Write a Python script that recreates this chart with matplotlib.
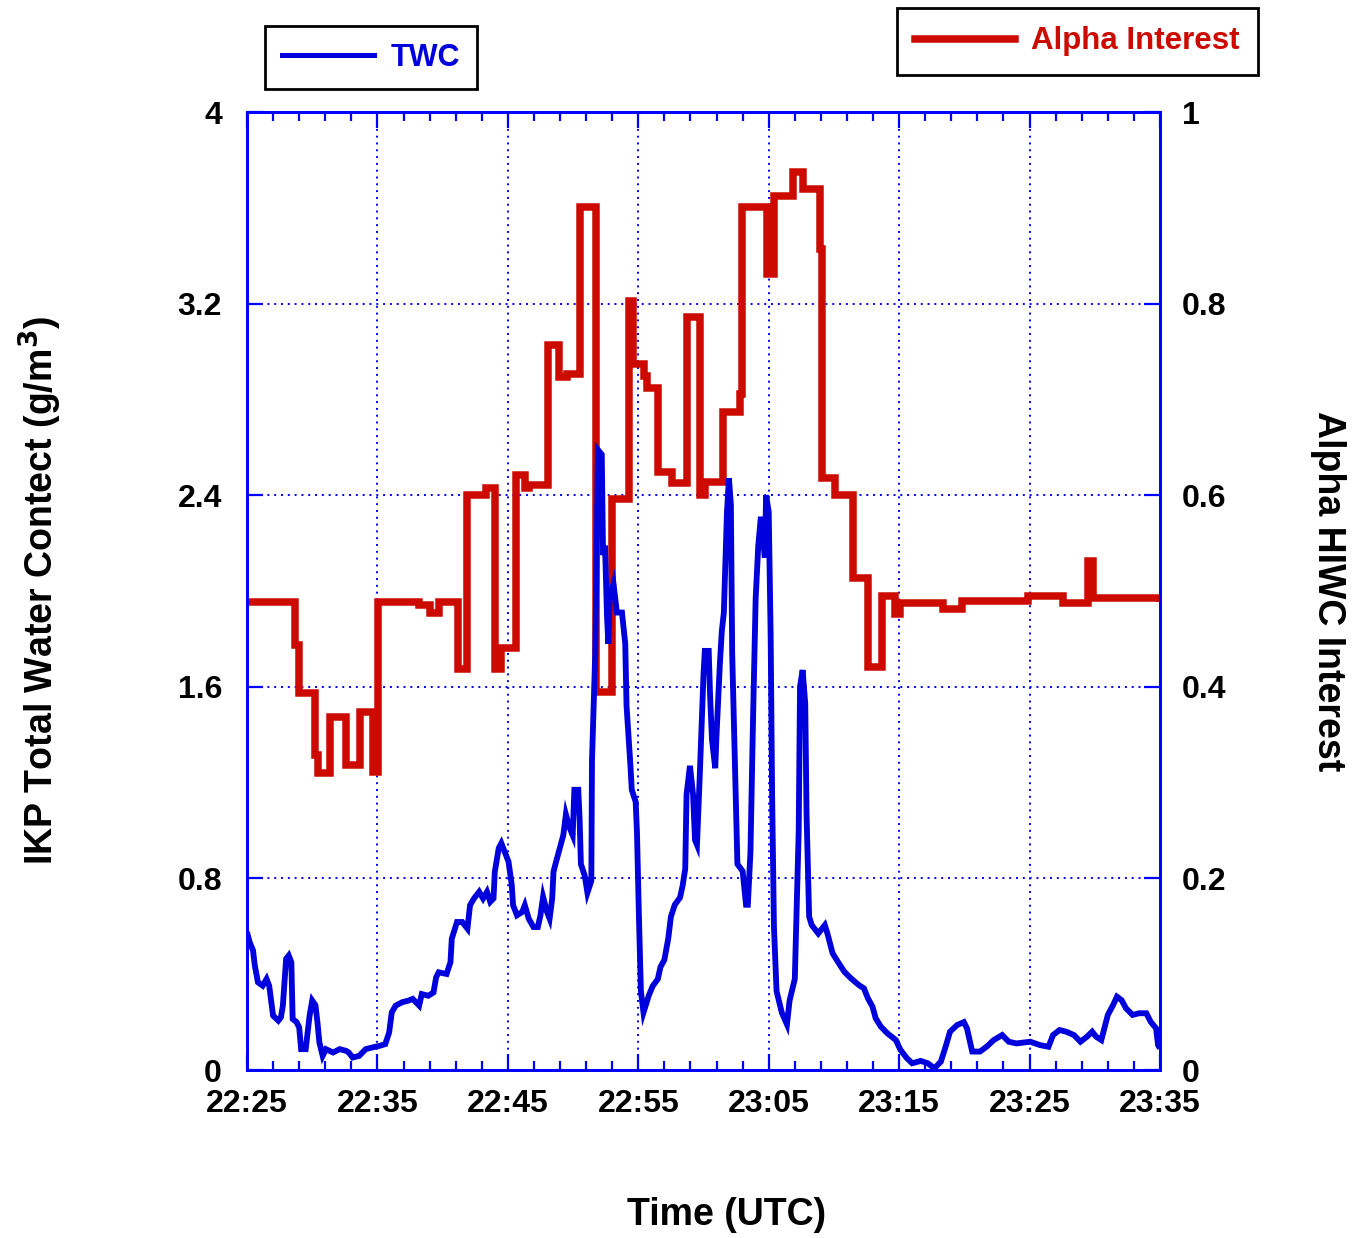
import matplotlib
matplotlib.use("Agg")
import matplotlib.pyplot as plt
from matplotlib.ticker import MultipleLocator
from matplotlib.lines import Line2D

plt.rcParams['font.family'] = ['Liberation Sans', 'DejaVu Sans']
plt.rcParams['font.weight'] = 'bold'

# ---------------- data ----------------
# time in minutes after 22:25 UTC
tick_minutes = [0, 10, 20, 30, 40, 50, 60, 70]
tick_labels = ["22:25", "22:35", "22:45", "22:55", "23:05", "23:15", "23:25", "23:35"]

twc_time = [0, 0.2, 0.46, 0.6, 0.84, 1.2, 1.5, 1.7, 2.0, 2.4, 2.6, 2.75, 3.0, 3.2, 3.4, 3.5,
            3.8, 4.0, 4.15, 4.5, 4.65, 4.8, 5.0, 5.25, 5.4, 5.55, 5.8, 6.05, 6.6, 7.1, 7.6,
            7.8, 8.1, 8.6, 9.1, 9.6, 10.1, 10.6, 10.9, 11.1, 11.4, 11.9, 12.4, 12.7, 13.2,
            13.4, 13.9, 14.3, 14.5, 14.7, 15.3, 15.6, 15.7, 16.1, 16.5, 16.9, 17.1, 17.4,
            17.8, 18.1, 18.4, 18.65, 18.9, 19.0, 19.3, 19.5, 19.8, 20.05, 20.3, 20.4, 20.7,
            21.1, 21.3, 21.6, 21.96, 22.3, 22.5, 22.7, 23.0, 23.2, 23.4, 23.5, 23.7, 24.0,
            24.25, 24.45, 24.7, 24.97, 25.1, 25.4, 25.5, 25.6, 25.9, 26.1, 26.4, 26.45, 26.7,
            26.8, 26.9, 27.2, 27.3, 27.45, 27.6, 27.7, 27.8, 28.1, 28.36, 28.75, 29.0, 29.1,
            29.4, 29.5, 29.8, 29.9, 30.05, 30.2, 30.4, 30.8, 31.1, 31.5, 31.7, 32.0, 32.3,
            32.5, 32.8, 33.2, 33.4, 33.6, 33.7, 33.96, 34.2, 34.35, 34.5, 34.7, 35.0, 35.1,
            35.4, 35.5, 35.65, 35.9, 36.0, 36.25, 36.4, 36.56, 36.8, 36.95, 37.1, 37.2, 37.5,
            37.6, 38.0, 38.26, 38.4, 38.6, 38.8, 39.0, 39.2, 39.4, 39.7, 39.8, 40.0, 40.15,
            40.26, 40.4, 40.6, 41.0, 41.4, 41.6, 42.0, 42.3, 42.4, 42.6, 42.8, 42.9, 43.1,
            43.3, 43.8, 44.3, 44.5, 44.9, 45.3, 45.8, 46.3, 46.9, 47.3, 47.6, 47.96, 48.2,
            48.6, 49.1, 49.75, 50.1, 50.6, 51.0, 51.65, 52.2, 52.7, 53.2, 53.6, 53.9, 54.45,
            54.96, 55.2, 55.6, 56.2, 56.7, 57.25, 57.9, 58.4, 59.0, 60.05, 60.8, 61.45, 61.8,
            62.3, 62.8, 63.4, 63.9, 64.4, 64.8, 65.1, 65.5, 65.8, 66.0, 66.4, 66.7, 67.05,
            67.4, 67.9, 68.4, 68.95, 69.3, 69.7, 69.85, 70.0]
twc_value = [0.576, 0.534, 0.5, 0.436, 0.366, 0.352, 0.38, 0.352, 0.227, 0.206, 0.22, 0.269,
             0.464, 0.478, 0.45, 0.213, 0.2, 0.178, 0.087, 0.087, 0.157, 0.227, 0.29, 0.27,
             0.2, 0.115, 0.059, 0.087, 0.073, 0.087, 0.08, 0.073, 0.052, 0.059, 0.087, 0.094,
             0.1, 0.108, 0.157, 0.241, 0.269, 0.283, 0.29, 0.297, 0.269, 0.317, 0.31, 0.324,
             0.387, 0.408, 0.401, 0.45, 0.548, 0.618, 0.618, 0.59, 0.688, 0.716, 0.744, 0.716,
             0.744, 0.702, 0.716, 0.828, 0.926, 0.947, 0.905, 0.87, 0.772, 0.688, 0.646, 0.66,
             0.688, 0.632, 0.597, 0.597, 0.646, 0.723, 0.66, 0.632, 0.716, 0.828, 0.87, 0.93,
             0.98, 1.067, 1.016, 0.98, 1.17, 1.17, 1.05, 0.86, 0.81, 0.74, 0.79, 1.29, 1.74,
             2.12, 2.59, 2.57, 2.15, 2.19, 1.9, 1.78, 1.97, 2.03, 1.91, 1.91, 1.78, 1.52,
             1.27, 1.17, 1.12, 0.99, 0.64, 0.33, 0.24, 0.31, 0.35, 0.38, 0.43, 0.46, 0.55,
             0.64, 0.69, 0.72, 0.77, 0.84, 1.15, 1.27, 1.15, 0.96, 0.94, 1.21, 1.65, 1.75,
             1.75, 1.57, 1.38, 1.26, 1.4, 1.69, 1.83, 1.91, 2.33, 2.47, 2.36, 1.74, 1.07,
             0.86, 0.83, 0.69, 0.69, 0.91, 1.47, 1.97, 2.19, 2.31, 2.14, 2.40, 2.33, 1.81,
             1.15, 0.6, 0.33, 0.24, 0.19, 0.29, 0.38, 1.0, 1.6, 1.67, 1.53, 1.07, 0.64,
             0.605, 0.57, 0.605, 0.57, 0.487, 0.452, 0.41, 0.383, 0.355, 0.341, 0.3, 0.264,
             0.216, 0.181, 0.153, 0.125, 0.084, 0.049, 0.028, 0.038, 0.028, 0.007, 0.035,
             0.104, 0.16, 0.188, 0.2, 0.174, 0.077, 0.077, 0.097, 0.125, 0.146, 0.118, 0.111,
             0.118, 0.104, 0.097, 0.146, 0.167, 0.16, 0.146, 0.118, 0.139, 0.16, 0.139, 0.125,
             0.188, 0.23, 0.271, 0.306, 0.292, 0.257, 0.23, 0.237, 0.237, 0.2, 0.174, 0.104,
             0.09]

alpha_time = [0.0, 3.7, 4.0, 5.2, 5.45, 6.37, 7.6, 8.67, 9.67, 10.05, 13.2, 14.0, 14.7, 16.2,
              16.9, 18.3, 19.0, 19.5, 20.6, 21.3, 21.6, 23.1, 23.9, 24.5, 25.5, 26.75, 28.0,
              29.3, 29.6, 30.4, 30.7, 31.5, 32.6, 33.75, 34.7, 35.1, 36.5, 37.8, 37.95, 39.9,
              40.4, 41.9, 42.6, 43.9, 44.05, 45.1, 46.5, 47.65, 48.7, 49.65, 50.1, 53.4, 54.8,
              59.9, 62.6, 64.5, 64.9, 70.0]
alpha_value = [0.489, 0.444, 0.394, 0.329, 0.310, 0.368, 0.318, 0.374, 0.311, 0.489, 0.485,
               0.477, 0.489, 0.419, 0.600, 0.607, 0.419, 0.440, 0.621, 0.607, 0.611, 0.757,
               0.723, 0.726, 0.901, 0.395, 0.596, 0.803, 0.737, 0.724, 0.712, 0.624, 0.613,
               0.786, 0.600, 0.614, 0.687, 0.706, 0.901, 0.831, 0.912, 0.937, 0.920, 0.857,
               0.618, 0.600, 0.514, 0.421, 0.495, 0.476, 0.487, 0.481, 0.490, 0.495, 0.487,
               0.531, 0.493, 0.488]

# ---------------- style ----------------
BLUE_AX = '#0000ff'
BLUE_LINE = '#0000dd'
RED = '#cc0a00'

fig = plt.figure(figsize=(13.52, 12.38), dpi=100)
ax_a = fig.add_axes([247/1352, 1-1070/1238, 913/1352, 958/1238])  # alpha (bottom layer)
ax_t = ax_a.twinx()                                                  # TWC (top layer)

ax_a.set_zorder(1)
ax_t.set_zorder(2)
ax_a.patch.set_visible(True)
ax_a.patch.set_facecolor('white')
ax_t.patch.set_visible(False)

ax_a.yaxis.tick_right()
ax_a.yaxis.set_label_position('right')
ax_t.yaxis.tick_left()
ax_t.yaxis.set_label_position('left')

red_line, = ax_a.step(alpha_time, alpha_value, where='post', color=RED, lw=5.4,
                      solid_joinstyle='miter', solid_capstyle='butt')
blue_line, = ax_t.plot(twc_time, twc_value, color=BLUE_LINE, lw=4.2,
                       solid_joinstyle='miter', solid_capstyle='butt')

ax_a.set_xlim(0, 70)
ax_a.set_ylim(0, 1)
ax_t.set_ylim(0, 4)

ax_a.set_xticks(tick_minutes)
ax_a.set_xticklabels(tick_labels)
ax_a.xaxis.set_minor_locator(MultipleLocator(2))
ax_a.set_yticks([0, 0.2, 0.4, 0.6, 0.8, 1.0])
ax_a.set_yticklabels(['0', '0.2', '0.4', '0.6', '0.8', '1'])
ax_t.set_yticks([0, 0.8, 1.6, 2.4, 3.2, 4.0])
ax_t.set_yticklabels(['0', '0.8', '1.6', '2.4', '3.2', '4'])

ax_a.grid(True, which='major', color=BLUE_AX, linestyle=(0, (1, 2.5)), linewidth=1.4)

fs_tick = 23
ax_a.tick_params(axis='x', which='major', direction='in', length=11.5, width=1.6,
                 color=BLUE_AX, top=True, bottom=True, labelsize=fs_tick, pad=14)
ax_a.tick_params(axis='x', which='minor', direction='in', length=6.5, width=1.6,
                 color=BLUE_AX, top=True, bottom=True)
ax_a.tick_params(axis='y', which='major', direction='in', length=11.5, width=1.6,
                 color=BLUE_AX, left=False, right=True, labelsize=fs_tick, pad=16)
ax_t.tick_params(axis='y', which='major', direction='in', length=11.5, width=1.6,
                 color=BLUE_AX, left=True, right=False, labelsize=fs_tick, pad=18)

for ax in (ax_a, ax_t):
    for sp in ax.spines.values():
        sp.set_color(BLUE_AX)
        sp.set_linewidth(2.0)

# axis labels
ax_a.set_xlabel('Time (UTC)', fontsize=27, fontweight='bold')
ax_a.xaxis.set_label_coords((727-247)/913, (1070-1215)/958)
ax_a.xaxis.label.set_va('center')

ax_t.set_ylabel('IKP Total Water Contect (g/m$^{3}$)', fontsize=27, fontweight='bold')
ax_t.yaxis.set_label_coords((40-247)/913, 0.5)
ax_t.yaxis.label.set_va('center')

ax_a.set_ylabel('Alpha HIWC Interest', fontsize=27, fontweight='bold', rotation=270)
ax_a.yaxis.set_label_coords((1328-247)/913, 0.5)
ax_a.yaxis.label.set_va('center')

# legends
leg1 = fig.legend(handles=[Line2D([], [], color=BLUE_LINE, lw=3.6)], labels=['TWC'],
                  loc='center', bbox_to_anchor=(371/1352, 1-57.5/1238),
                  handlelength=3.0, handletextpad=0.55, borderpad=0.55,
                  fancybox=False, edgecolor='black', framealpha=1, labelcolor=BLUE_LINE,
                  prop={'weight': 'bold', 'size': 22})
leg1.get_frame().set_linewidth(2.0)
leg2 = fig.legend(handles=[Line2D([], [], color=RED, lw=5.4)], labels=['Alpha Interest'],
                  loc='center', bbox_to_anchor=(1077.5/1352, 1-41.5/1238),
                  handlelength=3.2, handletextpad=0.5, borderpad=0.6,
                  fancybox=False, edgecolor='black', framealpha=1, labelcolor=RED,
                  prop={'weight': 'bold', 'size': 22.5})
leg2.get_frame().set_linewidth(2.0)

fig.savefig('out.png', dpi=100)
